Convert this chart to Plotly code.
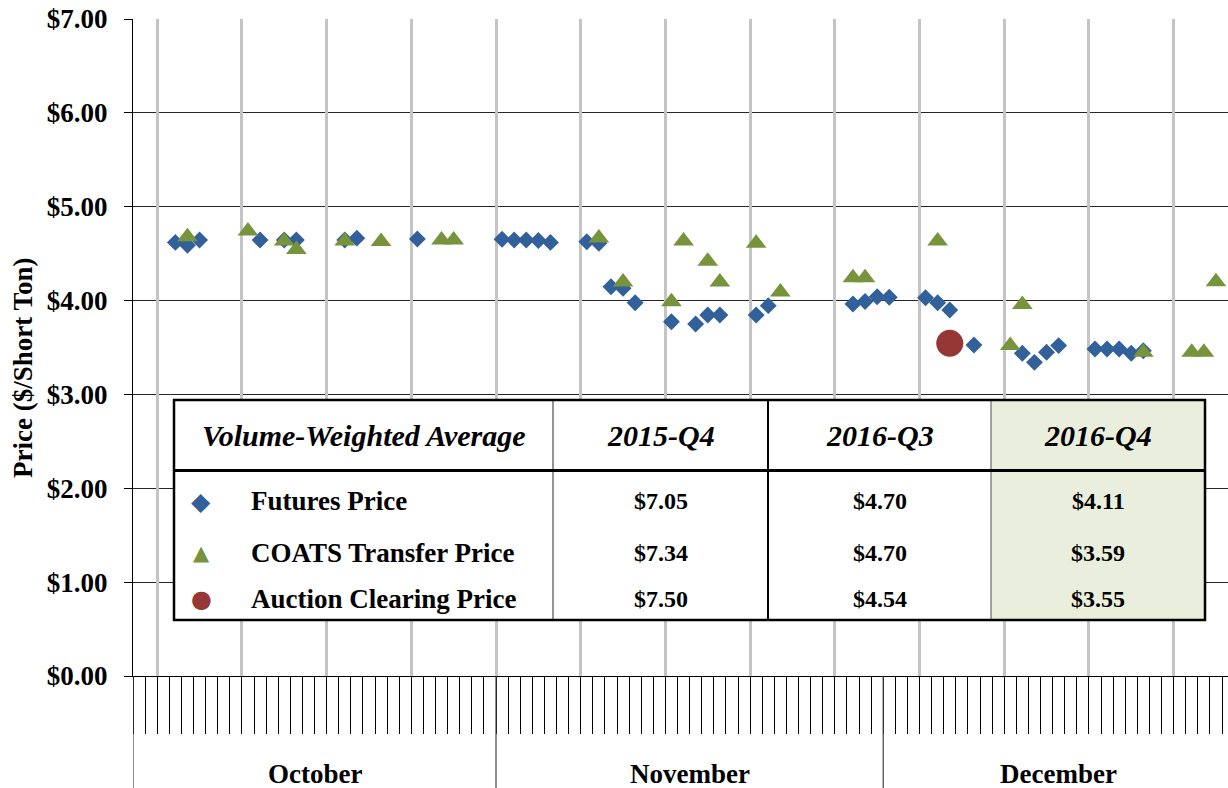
import plotly.graph_objects as go

# ---------------- data ----------------
# x = trading-day category index on the axis (0 = first October category)
futures_day = [3, 4, 5, 10, 12, 13, 17, 18, 23, 30, 31, 32, 33, 34, 37, 38, 39, 40, 41,
               44, 46, 47, 48, 51, 52, 59, 60, 61, 62, 65, 66, 67, 69, 73, 74, 75, 76,
               79, 80, 81, 82, 83]
futures_price = [4.62, 4.59, 4.645, 4.645, 4.645, 4.645, 4.645, 4.665, 4.656, 4.653, 4.645,
                 4.645, 4.64, 4.62, 4.627, 4.61, 4.148, 4.13, 3.977, 3.775, 3.75, 3.846,
                 3.846, 3.846, 3.946, 3.963, 3.99, 4.04, 4.035, 4.03, 3.977, 3.90, 3.527,
                 3.438, 3.342, 3.45, 3.52, 3.484, 3.484, 3.484, 3.438, 3.466]

coats_day = [4, 9, 12, 13, 17, 20, 25, 26, 38, 40, 44, 45, 47, 48, 51, 53, 59, 60, 66,
             72, 73, 83, 87, 88, 89]
coats_price = [4.68, 4.74, 4.635, 4.545, 4.635, 4.63, 4.645, 4.645, 4.667, 4.198, 3.988,
               4.635, 4.42, 4.198, 4.61, 4.09, 4.244, 4.244, 4.635, 3.52, 3.957, 3.45,
               3.45, 3.45, 4.20]

auction_day = [67]
auction_price = [3.545]

months = ["October", "November", "December"]
month_days = [30, 32, 29]

y_ticks = [0, 1, 2, 3, 4, 5, 6, 7]

table_columns = ["2015-Q4", "2016-Q3", "2016-Q4"]
table_rows = ["Futures Price", "COATS Transfer Price", "Auction Clearing Price"]
table_values = [[7.05, 4.70, 4.11],
                [7.34, 4.70, 3.59],
                [7.50, 4.54, 3.55]]

# ---------------- styling ----------------
W, H = 1228, 788
ML, MR, MT, MB = 133, 0, 19, 112
PW, PH = W - ML - MR, H - MT - MB
SERIF = "Liberation Serif"
BLUE, GREEN, RED = "#31609A", "#77933C", "#953735"

def px_x(px):
    return (px - ML) / PW

def px_y(py):
    return (H - MB - py) / PH

month_edges = [-0.5]
for n in month_days:
    month_edges.append(month_edges[-1] + n)
x_max = -0.5 + PW / 12.1
week_lines = [v + 0.5 for v in range(1, 90, 7)]

fig = go.Figure()
fig.add_trace(go.Scatter(x=futures_day, y=futures_price, mode="markers", name="Futures Price",
                         marker=dict(symbol="diamond", size=13, color=BLUE)))
fig.add_trace(go.Scatter(x=coats_day, y=coats_price, mode="markers", name="COATS Transfer Price",
                         xaxis="x2",
                         marker=dict(symbol="triangle-up", size=18, color=GREEN)))
fig.add_trace(go.Scatter(x=auction_day, y=auction_price, mode="markers", name="Auction Clearing Price",
                         xaxis="x2",
                         marker=dict(symbol="circle", size=27, color=RED)))

fig.update_layout(
    width=W, height=H, margin=dict(l=ML, r=MR, t=MT, b=MB, pad=0),
    plot_bgcolor="white", paper_bgcolor="white", showlegend=False,
    font=dict(family=SERIF, color="black"),
    xaxis=dict(range=[-0.5, x_max], showgrid=False, zeroline=False,
               showline=True, linecolor="black", linewidth=1,
               tickmode="linear", tick0=0.5, dtick=1, ticks="outside", ticklen=57,
               tickcolor="black", tickwidth=1, showticklabels=False),
    xaxis2=dict(overlaying="x", matches="x", anchor="y", range=[-0.5, x_max],
                tickmode="array", tickvals=week_lines, showgrid=True,
                gridcolor="#C4C4C4", gridwidth=3, ticks="", showticklabels=False,
                zeroline=False, showline=False),
    yaxis=dict(range=[0, 7], tickmode="array", tickvals=y_ticks,
               ticktext=[f"<b>${v:.2f}</b>" for v in y_ticks],
               tickfont=dict(family=SERIF, size=27, color="black"),
               showgrid=True, gridcolor="#262626", gridwidth=1, zeroline=False,
               showline=True, linecolor="black", linewidth=1,
               ticks="outside", ticklen=8, tickcolor="black", ticklabelstandoff=11),
)

fig.add_annotation(text="<b>Price ($/Short Ton)</b>", xref="paper", yref="paper",
                   x=px_x(23), y=px_y(368), textangle=-90, showarrow=False,
                   xanchor="center", yanchor="middle", font=dict(family=SERIF, size=27))

# month separators and labels
for e in month_edges[:-1]:
    fig.add_shape(type="line", xref="x", yref="paper", x0=e, x1=e, y0=0, y1=px_y(H),
                  line=dict(color="#404040", width=1.2))
for i, m in enumerate(months):
    c = (month_edges[i] + month_edges[i + 1]) / 2
    fig.add_annotation(text=f"<b>{m}</b>", xref="x", yref="paper", x=c, y=px_y(774),
                       showarrow=False, xanchor="center", yanchor="middle",
                       font=dict(family=SERIF, size=27))

# ---------------- table overlay ----------------
T_L, T_R, T_T, T_B, T_HDR = 174, 1205, 400, 620, 470.5
COLS = [T_L, 553, 768, 991, T_R]
ROW_Y = [501, 553, 599]

fig.add_shape(type="rect", xref="paper", yref="paper", x0=px_x(T_L), x1=px_x(T_R),
              y0=px_y(T_B), y1=px_y(T_T), fillcolor="white", line=dict(width=0), layer="above")
fig.add_shape(type="rect", xref="paper", yref="paper", x0=px_x(COLS[3]), x1=px_x(T_R),
              y0=px_y(T_B), y1=px_y(T_T), fillcolor="#EAEEDD", line=dict(width=0), layer="above")
for xc, col, wd in [(COLS[1], "#707070", 1.5), (COLS[2], "black", 2), (COLS[3], "#505050", 1)]:
    fig.add_shape(type="line", xref="paper", yref="paper", x0=px_x(xc), x1=px_x(xc),
                  y0=px_y(T_B), y1=px_y(T_T), line=dict(color=col, width=wd), layer="above")
fig.add_shape(type="line", xref="paper", yref="paper", x0=px_x(T_L), x1=px_x(T_R),
              y0=px_y(T_HDR), y1=px_y(T_HDR), line=dict(color="black", width=3), layer="above")
fig.add_shape(type="rect", xref="paper", yref="paper", x0=px_x(T_L), x1=px_x(T_R),
              y0=px_y(T_B), y1=px_y(T_T), fillcolor="rgba(0,0,0,0)",
              line=dict(color="black", width=2.5), layer="above")

hdr_y = px_y((T_T + T_HDR) / 2)
fig.add_annotation(text="<b><i>Volume-Weighted Average</i></b>", xref="paper", yref="paper",
                   x=px_x((COLS[0] + COLS[1]) / 2), y=hdr_y, showarrow=False,
                   xanchor="center", yanchor="middle", font=dict(family=SERIF, size=30))
for j, cname in enumerate(table_columns):
    fig.add_annotation(text=f"<b><i>{cname}</i></b>", xref="paper", yref="paper",
                       x=px_x((COLS[j + 1] + COLS[j + 2]) / 2), y=hdr_y, showarrow=False,
                       xanchor="center", yanchor="middle", font=dict(family=SERIF, size=30))

symbols = [("◆", BLUE, 25), ("▲", GREEN, 21), ("●", RED, 24)]
for i, rname in enumerate(table_rows):
    sym, col, sz = symbols[i]
    fig.add_annotation(text=sym, xref="paper", yref="paper", x=px_x(201), y=px_y(ROW_Y[i]),
                       showarrow=False, xanchor="center", yanchor="middle",
                       font=dict(family="DejaVu Sans", size=sz, color=col))
    fig.add_annotation(text=f"<b>{rname}</b>", xref="paper", yref="paper", x=px_x(249),
                       y=px_y(ROW_Y[i]), showarrow=False, xanchor="left", yanchor="middle",
                       font=dict(family=SERIF, size=27))
    for j, v in enumerate(table_values[i]):
        fig.add_annotation(text=f"<b>${v:.2f}</b>", xref="paper", yref="paper",
                           x=px_x((COLS[j + 1] + COLS[j + 2]) / 2), y=px_y(ROW_Y[i]),
                           showarrow=False, xanchor="center", yanchor="middle",
                           font=dict(family=SERIF, size=24))

fig.write_html("out.html", config={"displayModeBar": False},
               post_script="document.body.style.margin='0px';")
